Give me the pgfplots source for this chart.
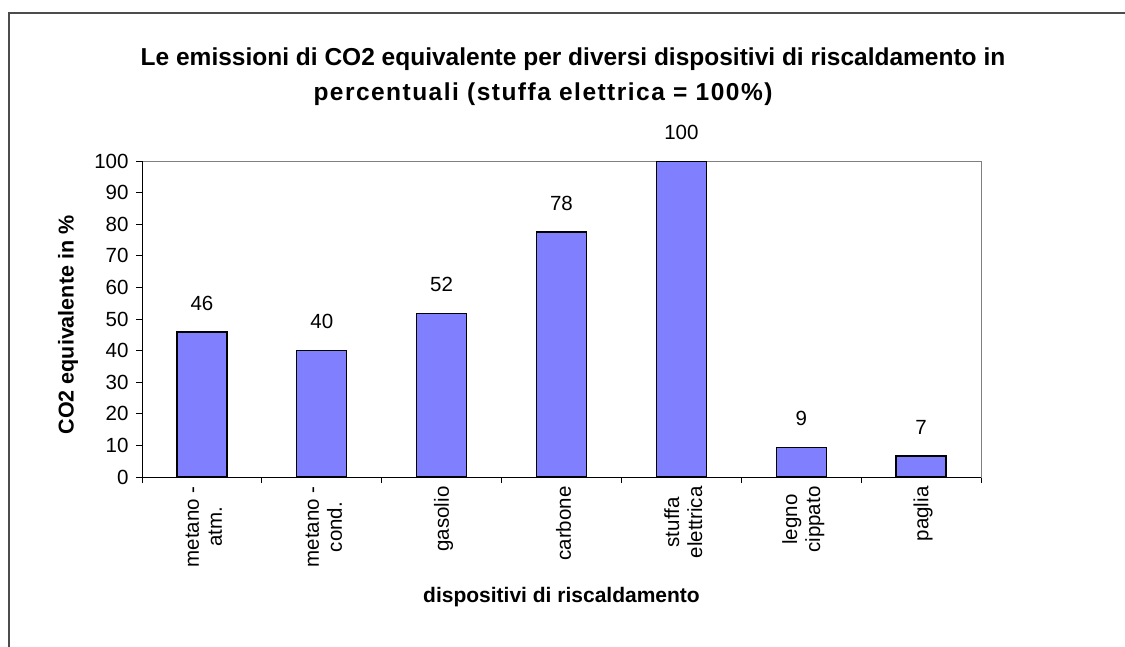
\documentclass[border=0pt]{standalone}
\usepackage{fontspec}
\setmainfont{Liberation Sans}
\usepackage{pgfplots}
\usepackage{pgfplotstable}
\pgfplotsset{compat=1.18}

\definecolor{barblue}{HTML}{8080FF}
\definecolor{framegray}{HTML}{808080}

% emissioni CO2 equivalente, stuffa elettrica = 100
\pgfplotstableread{
x y lab
0 45.9 46
1 40.0 40
2 51.7 52
3 77.5 78
4 100 100
5 9.4 9
6 6.6 7
}\emissioni

\begin{document}
\begin{tikzpicture}
\useasboundingbox (0,0) rectangle (1125pt,-646pt);
\begin{scope}
\clip (0,0) rectangle (1125pt,-646pt);
\draw[black!70, line width=1.2pt] (9pt,-700pt) -- (9pt,-13pt) -- (1200pt,-13pt);

\node[font=\fontsize{24.5}{28}\selectfont\bfseries] at (573pt,-59pt)
  {Le emissioni di CO2 equivalente per diversi dispositivi di riscaldamento in};
\node[font=\fontsize{24.5}{28}\selectfont\bfseries\addfontfeature{LetterSpace=6}] at (543pt,-94pt)
  {percentuali (stuffa elettrica = 100\%)};

\begin{axis}[
  at={(142pt,-477pt)}, anchor=south west,
  scale only axis, width=839pt, height=316pt,
  xmin=-0.5, xmax=6.5, ymin=0, ymax=100,
  ybar, bar width=0.417,
  axis line style={framegray, line width=1pt},
  tick align=outside,
  xtick pos=left, ytick pos=left,
  xtick={0,...,6},
  xticklabels={{metano -\\atm.},{metano -\\cond.},gasolio,carbone,{stuffa\\elettrica},{legno\\cippato},paglia},
  major x tick style={draw=none},
  minor xtick={-0.5,0.5,...,6.5},
  minor x tick style={black, line width=0.8pt},
  minor tick length=6pt,
  ytick={0,10,...,100},
  major tick length=6pt,
  y tick style={black, line width=0.8pt},
  /pgf/number format/assume math mode=true,
  y tick label style={font=\fontsize{20.5}{23}\selectfont, xshift=-4pt},
  x tick label style={font=\fontsize{20.5}{23}\selectfont, rotate=90, anchor=east, align=center, yshift=-2pt},
  xlabel={dispositivi di riscaldamento},
  ylabel={CO2 equivalente in \%},
  xlabel style={font=\fontsize{21}{24}\selectfont\bfseries, at={(axis description cs:0.5,-0.38)}, anchor=center},
  ylabel style={font=\fontsize{21.5}{24}\selectfont\bfseries, at={(axis description cs:-0.088,0.481)}, anchor=center, rotate=0},
  nodes near coords,
  point meta=explicit symbolic,
  every node near coord/.append style={font=\fontsize{20.5}{23}\selectfont, anchor=center, yshift=29pt},
  after end axis/.code={
    \draw[black, line width=1pt] (rel axis cs:0,1) -- (rel axis cs:0,0) -- (rel axis cs:1,0);
  },
]
\addplot[fill=barblue, draw=black, line width=1.4pt] table[x=x, y=y, meta=lab] {\emissioni};
\end{axis}
\end{scope}
\end{tikzpicture}
\end{document}
